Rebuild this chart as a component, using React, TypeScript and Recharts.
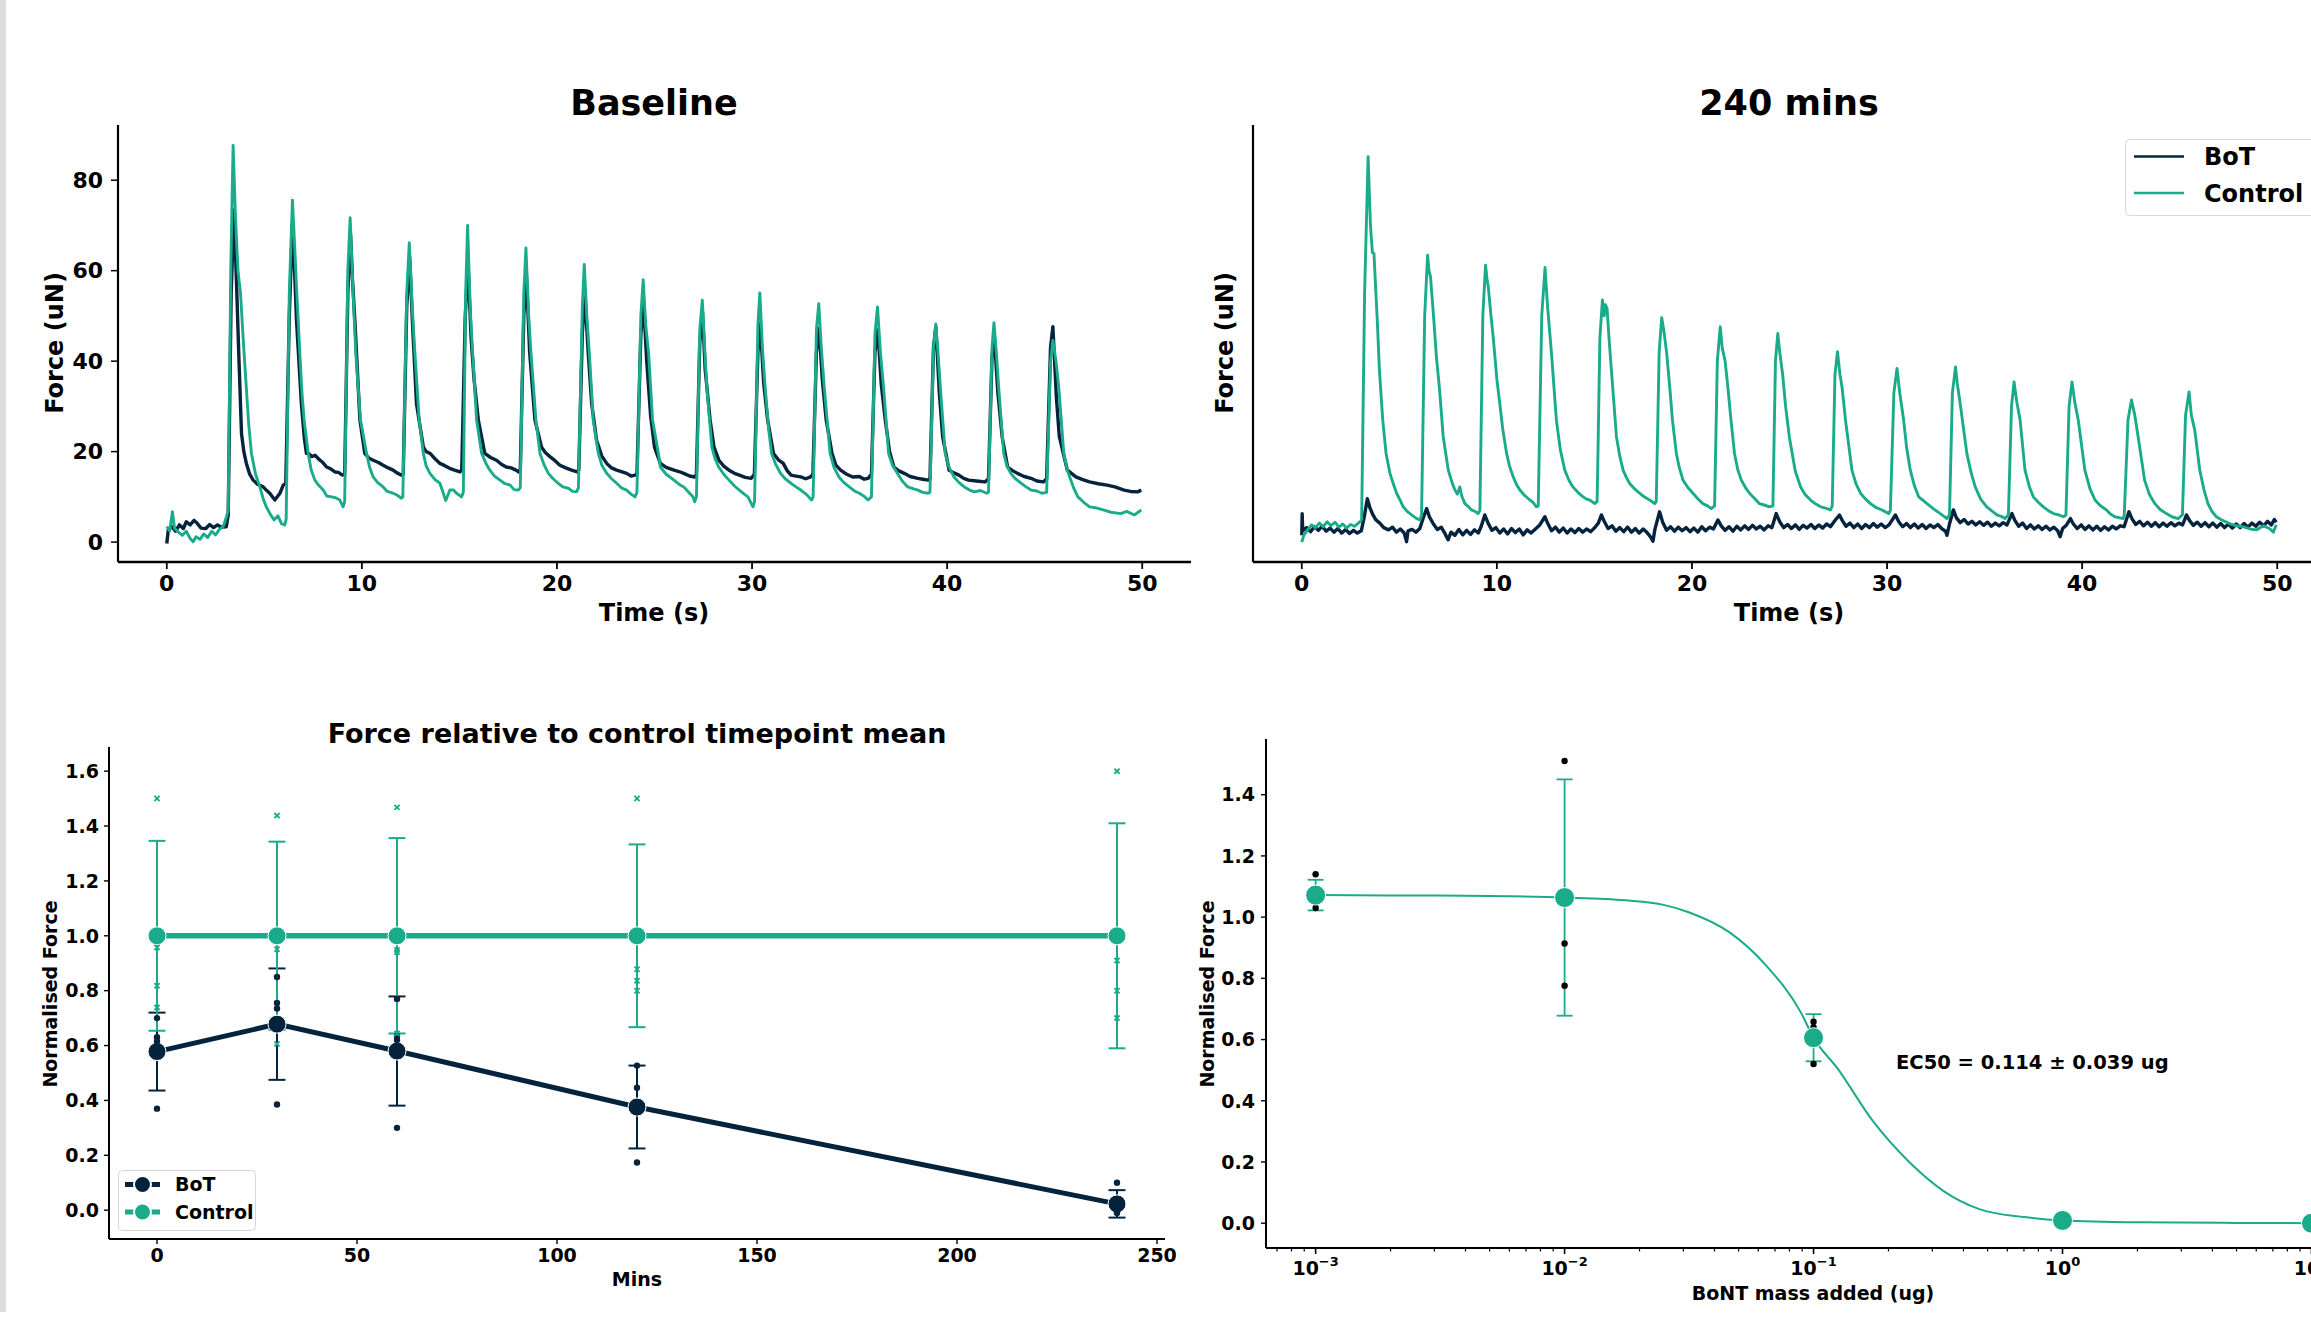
import React from 'react';
import { LineChart, ComposedChart, Line, Scatter, XAxis, YAxis, ErrorBar } from 'recharts';

const DARK = '#06233d';
const GREEN = '#1aab8a';
const FONT = '"DejaVu Sans", sans-serif';

// ---- twitch traces, [time (s), force (uN)] ----
const BOT_BASELINE: [number, number][] = [
  [0, -0.3], [0.08, 2.7], [0.25, 3.5], [0.45, 2.4], [0.65, 3.8], [0.85, 3], [1.0, 4.5], [1.2, 3.8], [1.4, 4.8], [1.55, 4.2], [1.75, 3.1], [2.0, 3.0], [2.2, 3.9], [2.4, 3.2], [2.6, 3.8], [2.8, 3.3], [3.05, 3.4],
  [3.15, 6], [3.3, 55], [3.45, 73.4], [3.57, 58], [3.69, 41.7], [3.83, 24], [3.95, 20], [4.08, 17.4], [4.25, 15], [4.43, 13.7], [4.65, 12.8], [4.94, 12.2], [5.1, 11.5], [5.28, 10.8], [5.54, 9.3], [5.8, 10.8], [5.97, 12.6],
  [6.1, 13], [6.28, 50], [6.44, 70.4], [6.55, 60], [6.65, 49], [6.9, 30.6], [7.05, 23], [7.16, 19.6], [7.3, 19.5], [7.42, 18.9], [7.6, 19.2], [7.85, 18.1], [8.0, 17.6], [8.19, 16.6], [8.4, 16.2], [8.62, 15.5], [8.8, 15.4], [9.0, 14.8],
  [9.12, 15], [9.28, 55], [9.42, 68], [9.52, 58], [9.64, 49], [9.9, 27], [10.15, 19.6], [10.35, 18.6], [10.58, 18.1], [10.85, 17.6], [11.09, 17], [11.35, 16.4], [11.6, 15.9], [11.8, 15.3], [12.03, 14.8],
  [12.12, 15], [12.3, 52], [12.45, 63], [12.6, 48], [12.8, 30.6], [13.15, 21], [13.3, 20], [13.5, 19.6], [13.75, 18.4], [14.0, 17.4], [14.25, 16.9], [14.5, 16.3], [14.75, 15.9], [15.03, 15.5],
  [15.12, 16], [15.3, 50], [15.44, 61.6], [15.6, 45], [15.75, 36], [15.97, 27], [16.3, 19.6], [16.6, 18.7], [16.9, 18.1], [17.15, 17.2], [17.4, 16.6], [17.65, 16.4], [17.9, 15.9], [18.05, 15.5],
  [18.12, 16], [18.3, 50], [18.43, 59.4], [18.6, 42], [18.87, 27], [19.21, 21], [19.4, 19.8], [19.64, 18.9], [19.9, 18], [20.15, 17], [20.45, 16.4], [20.75, 15.9], [21.04, 15.5],
  [21.12, 16], [21.3, 46], [21.43, 55], [21.6, 42], [21.78, 30.6], [22.03, 22.5], [22.3, 19], [22.55, 17.4], [22.8, 16.4], [23.06, 15.9], [23.3, 15.6], [23.57, 15.2], [23.8, 14.6], [24.0, 14.8],
  [24.1, 15], [24.3, 46], [24.44, 53.1], [24.6, 40], [24.8, 28], [25.0, 21], [25.3, 17.4], [25.6, 16.5], [26.0, 15.9], [26.25, 15.6], [26.5, 15.2], [26.8, 14.6], [27.06, 14.4],
  [27.15, 15], [27.32, 44], [27.46, 50.9], [27.6, 38], [27.85, 27], [28.05, 21], [28.3, 18.1], [28.55, 16.8], [28.82, 15.9], [29.1, 15.2], [29.35, 14.8], [29.65, 14.3], [29.96, 14.1],
  [30.12, 15], [30.3, 42], [30.42, 48.3], [30.6, 35], [30.8, 27], [31.1, 19.6], [31.35, 18.2], [31.6, 17.4], [31.8, 15.8], [32.0, 14.8], [32.25, 14.6], [32.5, 14.4], [32.75, 14.0], [33.0, 14.4],
  [33.12, 15], [33.3, 42], [33.44, 47.2], [33.6, 36], [33.8, 27], [34.1, 19.6], [34.3, 17], [34.54, 15.9], [34.85, 15], [35.16, 14.4], [35.5, 14.5], [35.75, 13.9], [35.95, 14.1],
  [36.12, 15], [36.3, 42], [36.45, 46.9], [36.62, 35], [36.83, 27], [37.05, 20], [37.27, 16.6], [37.5, 15.8], [37.8, 15.2], [38.1, 14.5], [38.5, 14.1], [38.75, 13.9], [39.03, 13.7],
  [39.12, 14], [39.3, 43], [39.42, 47.6], [39.6, 33], [39.77, 23.3], [40.1, 15.9], [40.35, 15.3], [40.6, 14.8], [40.85, 14.1], [41.1, 13.7], [41.5, 13.5], [41.94, 13.3],
  [42.12, 14], [42.3, 41], [42.42, 45.4], [42.6, 33], [42.82, 23.3], [43.1, 16.6], [43.35, 15.8], [43.6, 15.2], [43.95, 14.5], [44.3, 14.1], [44.6, 13.5], [44.93, 13.3],
  [45.1, 14], [45.3, 43], [45.42, 47.6], [45.6, 32], [45.75, 23.3], [46.16, 15.9], [46.6, 14.4], [46.95, 13.8], [47.3, 13.3], [47.75, 12.9], [48.2, 12.6], [48.6, 12.2], [49.07, 11.5], [49.4, 11.2], [49.77, 11.1], [49.95, 11.5],
];

const CTRL_BASELINE: [number, number][] = [
  [0, 3.4], [0.15, 2.5], [0.29, 6.7], [0.4, 3], [0.6, 2.2], [0.8, 1.5], [1.0, 2.4], [1.2, 0.8], [1.35, 0.1], [1.5, 1.2], [1.7, 0.6], [1.9, 1.8], [2.1, 1.0], [2.3, 2.4], [2.5, 1.6], [2.7, 2.8], [2.9, 3.5], [3.06, 5.6],
  [3.15, 7], [3.28, 60], [3.4, 87.7], [3.52, 72], [3.65, 60], [3.78, 55], [3.93, 44], [4.08, 34], [4.2, 26], [4.34, 19.6], [4.55, 15], [4.77, 12.2], [4.95, 9.5], [5.1, 7.8], [5.3, 6.2], [5.5, 4.9], [5.7, 5.8], [5.88, 4.1], [6.05, 3.8],
  [6.12, 5], [6.28, 55], [6.44, 75.6], [6.55, 66], [6.65, 56.4], [6.82, 41.7], [6.93, 33], [7.04, 27], [7.25, 19.6], [7.4, 16], [7.59, 13.7], [7.8, 12.5], [8.02, 11.5], [8.2, 10.2], [8.44, 10], [8.65, 9.8], [8.87, 9.3], [9.04, 7.8],
  [9.12, 9], [9.28, 60], [9.4, 71.7], [9.55, 55], [9.69, 41.7], [9.93, 27], [10.24, 19.6], [10.4, 16.5], [10.58, 14.4], [10.8, 13.2], [11.09, 12.2], [11.3, 11.2], [11.6, 10.8], [11.8, 10.4], [12.03, 9.7],
  [12.1, 10], [12.3, 55], [12.43, 66.2], [12.58, 52], [12.72, 41.7], [12.94, 27], [13.15, 19.6], [13.3, 16.8], [13.49, 15.2], [13.75, 13.8], [14.0, 13], [14.3, 9.2], [14.51, 11.5], [14.7, 11.5], [14.85, 10.8], [15.11, 10],
  [15.2, 11], [15.32, 55], [15.42, 70], [15.55, 52], [15.68, 41.7], [15.88, 27], [16.14, 19.6], [16.35, 17.5], [16.56, 15.9], [16.8, 14.6], [17.08, 13.7], [17.3, 13], [17.6, 12.6], [17.8, 11.6], [18.02, 11.5],
  [18.12, 12], [18.3, 55], [18.41, 65], [18.55, 50], [18.67, 41.7], [18.92, 27], [19.13, 19.6], [19.35, 17], [19.56, 15.2], [19.8, 14], [20.07, 13], [20.3, 12.2], [20.58, 11.9], [20.8, 11.2], [21.0, 11.1],
  [21.1, 12], [21.3, 52], [21.4, 61.4], [21.53, 50], [21.66, 41.7], [21.86, 27], [22.12, 19.6], [22.3, 17], [22.55, 15.2], [22.8, 14], [23.06, 13], [23.3, 12], [23.57, 11.5], [23.8, 10.6], [24.0, 10],
  [24.1, 11], [24.3, 50], [24.42, 58], [24.55, 48], [24.7, 41.7], [24.9, 27], [25.2, 19.6], [25.3, 16.6], [25.6, 15], [26.0, 13.7], [26.25, 12.8], [26.5, 12.2], [26.75, 11], [26.97, 10], [27.06, 8.9],
  [27.15, 10], [27.32, 47], [27.45, 53.5], [27.56, 44], [27.68, 34.3], [27.94, 21], [28.1, 18.5], [28.29, 16.6], [28.55, 15], [28.82, 13.7], [29.1, 12.4], [29.35, 11.5], [29.6, 10.6], [29.79, 10], [30.05, 7.8],
  [30.13, 9], [30.3, 48], [30.4, 55.1], [30.53, 43], [30.67, 34.3], [30.85, 25], [31.0, 19.6], [31.2, 17.3], [31.46, 15.2], [31.7, 14], [32.0, 13], [32.25, 12.2], [32.5, 11.5], [32.8, 10.5], [33.05, 9.3],
  [33.13, 10], [33.3, 47], [33.42, 52.7], [33.55, 43], [33.7, 34.3], [34.0, 19.6], [34.2, 16.5], [34.45, 14.4], [34.7, 13.2], [34.98, 12.2], [35.25, 11.3], [35.5, 10.8], [35.75, 10.1], [35.95, 9.3],
  [36.12, 10], [36.3, 46], [36.43, 52], [36.58, 42], [36.74, 34.3], [37.0, 19.6], [37.2, 17], [37.45, 15.2], [37.7, 13.5], [37.98, 12.2], [38.25, 11.8], [38.5, 11.5], [38.75, 11], [39.03, 10.8],
  [39.12, 11], [39.3, 43], [39.42, 48.2], [39.53, 42], [39.65, 34.3], [39.9, 19.6], [40.1, 16.5], [40.35, 14.4], [40.6, 13.2], [40.88, 12.2], [41.15, 11.5], [41.4, 11.1], [41.7, 11.4], [42.03, 10.8],
  [42.12, 11], [42.3, 43], [42.4, 48.5], [42.52, 42], [42.64, 34.3], [42.9, 19.6], [43.05, 17], [43.26, 15.2], [43.5, 14], [43.8, 13], [44.05, 12.2], [44.3, 11.5], [44.6, 11.3], [44.86, 10.8], [45.1, 11],
  [45.3, 40], [45.42, 44.6], [45.58, 40], [45.72, 34.3], [45.98, 19.6], [46.15, 16], [46.34, 13.7], [46.5, 11.8], [46.7, 10], [47.0, 8.8], [47.3, 7.8], [47.6, 7.6], [48.0, 7.1], [48.4, 6.6], [48.9, 6.3], [49.2, 6.8], [49.6, 6.0], [49.95, 7.1],
];

const BOT_240: [number, number][] = [
  [0, 1.5], [0.02, 6.3], [0.05, 2.5], [0.25, 3.2], [0.45, 2.3], [0.65, 3.4], [0.85, 2.6], [1.05, 3.5], [1.25, 2.4], [1.45, 3.1], [1.65, 2.2], [1.85, 3.0], [2.05, 2.0], [2.25, 2.8], [2.45, 1.9], [2.65, 2.6], [2.85, 2.0], [3.05, 2.5],
  [3.2, 5.5], [3.36, 9.6], [3.5, 7.5], [3.65, 6], [3.8, 4.9], [4.0, 4.2], [4.2, 3.2], [4.45, 2.7], [4.65, 3.3], [4.85, 2.2], [5.05, 2.9], [5.25, 2.0], [5.37, 0.1], [5.45, 2.5], [5.65, 2.8], [5.85, 2.2], [6.05, 3.0],
  [6.2, 5], [6.4, 7.4], [6.55, 5.5], [6.75, 4], [6.95, 2.8], [7.15, 3.3], [7.35, 1.8], [7.5, 0.5], [7.65, 2.2], [7.85, 1.5], [8.05, 2.8], [8.25, 1.6], [8.45, 2.6], [8.65, 1.7], [8.85, 2.7], [9.05, 2.0],
  [9.2, 3.5], [9.38, 6.0], [9.55, 4.2], [9.75, 2.6], [9.95, 3.2], [10.15, 2.0], [10.35, 2.9], [10.55, 1.8], [10.75, 3.0], [10.95, 2.1], [11.15, 2.9], [11.35, 1.6], [11.55, 2.7], [11.75, 2.0], [11.95, 2.8],
  [12.2, 3.8], [12.46, 5.6], [12.6, 4.2], [12.8, 2.5], [13.0, 3.3], [13.2, 2.2], [13.4, 3.1], [13.6, 2.0], [13.8, 2.9], [14.0, 2.1], [14.2, 3.0], [14.4, 2.2], [14.6, 2.9], [14.8, 2.3], [15.0, 3.1],
  [15.2, 4.2], [15.36, 6.0], [15.5, 4.6], [15.7, 3.0], [15.9, 3.6], [16.1, 2.4], [16.3, 3.2], [16.5, 2.3], [16.7, 3.3], [16.9, 2.2], [17.1, 3.0], [17.3, 2.0], [17.5, 2.9], [17.7, 2.1], [17.9, 1.0], [18.0, 0.2], [18.1, 2.8],
  [18.34, 6.7], [18.5, 4.4], [18.7, 2.6], [18.9, 3.4], [19.1, 2.4], [19.3, 3.3], [19.5, 2.5], [19.7, 3.2], [19.9, 2.3], [20.1, 3.1], [20.3, 2.2], [20.5, 3.4], [20.7, 2.5], [20.9, 3.3], [21.1, 2.9],
  [21.33, 4.9], [21.5, 3.6], [21.7, 2.6], [21.9, 3.4], [22.1, 2.4], [22.3, 3.5], [22.5, 2.7], [22.7, 3.6], [22.9, 2.8], [23.1, 3.7], [23.3, 2.9], [23.5, 3.5], [23.7, 2.7], [23.9, 3.6], [24.1, 3.2],
  [24.32, 6.3], [24.5, 4.5], [24.7, 3.2], [24.9, 3.9], [25.1, 3.0], [25.3, 3.8], [25.5, 2.8], [25.7, 3.7], [25.9, 3.1], [26.1, 3.9], [26.3, 3.0], [26.5, 3.8], [26.7, 3.1], [26.9, 4.0], [27.1, 3.4],
  [27.3, 4.6], [27.56, 6.0], [27.7, 4.8], [27.9, 3.5], [28.1, 4.2], [28.3, 3.2], [28.5, 4.0], [28.7, 3.0], [28.9, 3.9], [29.1, 3.2], [29.3, 4.1], [29.5, 3.3], [29.7, 4.0], [29.9, 3.2], [30.1, 3.8],
  [30.43, 6.0], [30.6, 4.5], [30.8, 3.4], [31.0, 4.1], [31.2, 3.2], [31.4, 4.0], [31.6, 3.1], [31.8, 3.9], [32.0, 3.0], [32.2, 3.8], [32.4, 3.2], [32.6, 3.9], [32.8, 3.0], [33.0, 2.4], [33.07, 1.5], [33.2, 4.0],
  [33.4, 7.1], [33.55, 5.4], [33.75, 4.3], [33.95, 5.0], [34.15, 4.0], [34.35, 4.6], [34.55, 3.8], [34.75, 4.5], [34.95, 3.7], [35.15, 4.4], [35.35, 3.5], [35.55, 4.2], [35.75, 3.6], [35.95, 4.3], [36.15, 3.8],
  [36.4, 6.3], [36.55, 4.8], [36.75, 3.5], [36.95, 4.2], [37.15, 3.0], [37.35, 3.8], [37.55, 2.9], [37.75, 3.6], [37.95, 2.8], [38.15, 3.5], [38.35, 2.7], [38.55, 3.3], [38.75, 2.5], [38.87, 1.2], [39.0, 3.0],
  [39.2, 3.8], [39.4, 5.2], [39.55, 4.0], [39.75, 3.0], [39.95, 3.8], [40.15, 2.8], [40.35, 3.6], [40.55, 2.7], [40.75, 3.5], [40.95, 2.6], [41.15, 3.4], [41.35, 2.7], [41.55, 3.5], [41.75, 2.9], [41.95, 3.6], [42.15, 3.4],
  [42.4, 6.7], [42.55, 5.2], [42.75, 3.9], [42.95, 4.6], [43.15, 3.6], [43.35, 4.4], [43.55, 3.5], [43.75, 4.3], [43.95, 3.4], [44.15, 4.2], [44.35, 3.5], [44.55, 4.3], [44.75, 3.6], [44.95, 4.2], [45.15, 3.8],
  [45.35, 6.0], [45.5, 4.8], [45.7, 3.7], [45.9, 4.4], [46.1, 3.5], [46.3, 4.3], [46.5, 3.4], [46.7, 4.2], [46.9, 3.3], [47.1, 4.1], [47.3, 3.2], [47.5, 4.0], [47.7, 3.1], [47.9, 4.0], [48.1, 3.2], [48.3, 4.1], [48.5, 3.3], [48.7, 4.2], [48.9, 3.5], [49.1, 4.4], [49.3, 3.6], [49.5, 4.6], [49.7, 3.8], [49.85, 5.0], [49.95, 4.4],
];

const CTRL_240: [number, number][] = [
  [0, 0], [0.1, 1.5], [0.3, 2.7], [0.5, 3.8], [0.7, 3.2], [0.9, 4.2], [1.1, 3.4], [1.3, 4.5], [1.5, 3.6], [1.7, 4.4], [1.9, 3.3], [2.1, 4.0], [2.3, 3.1], [2.5, 3.9], [2.7, 3.5], [2.99, 4.5],
  [3.07, 5], [3.22, 55], [3.4, 85.2], [3.52, 70], [3.62, 64], [3.7, 63.8], [3.8, 55], [3.87, 49], [3.98, 38], [4.15, 27], [4.32, 19.6], [4.52, 15.2], [4.7, 12.8], [4.86, 10.8], [5.05, 9.2], [5.2, 7.8], [5.4, 6.8], [5.55, 6.3], [5.7, 5.8], [5.89, 5.2], [6.06, 4.9],
  [6.14, 6], [6.3, 50], [6.45, 63.4], [6.52, 60], [6.6, 58.6], [6.77, 49], [6.9, 41], [7.05, 34.3], [7.25, 23.3], [7.51, 15.9], [7.7, 13.2], [7.85, 11.5], [7.98, 10.6], [8.1, 12.2], [8.2, 10.2], [8.36, 8.5], [8.55, 7.8], [8.7, 7.1], [8.88, 6.8], [9.04, 6.3],
  [9.13, 7], [9.28, 50], [9.42, 61.2], [9.5, 58], [9.56, 56.4], [9.7, 50], [9.81, 45.4], [10.0, 36], [10.15, 30.6], [10.3, 25], [10.5, 19.6], [10.65, 16.8], [10.84, 14.4], [11.0, 12.8], [11.18, 11.5], [11.4, 10.4], [11.69, 9.3], [11.85, 8.8], [12.03, 7.8],
  [12.12, 8], [12.3, 50], [12.47, 60.7], [12.6, 52], [12.8, 41.7], [13.05, 27], [13.25, 20.5], [13.48, 15.9], [13.7, 13.6], [13.9, 12.2], [14.15, 11], [14.42, 10], [14.6, 9.5], [14.76, 9.3], [15.02, 8.5],
  [15.14, 9], [15.28, 45], [15.41, 53.5], [15.5, 50], [15.56, 52.5], [15.65, 51.6], [15.75, 45], [15.87, 38], [16.13, 23.3], [16.3, 19], [16.47, 15.9], [16.65, 14.2], [16.8, 13], [17.05, 11.8], [17.32, 10.8], [17.55, 10], [17.83, 9.3], [18.09, 8.5],
  [18.17, 9], [18.32, 42], [18.45, 49.6], [18.55, 47], [18.7, 42], [18.86, 34.3], [19.0, 27], [19.2, 19.6], [19.35, 16.5], [19.54, 13.7], [19.8, 12], [20.05, 10.8], [20.3, 9.6], [20.56, 8.5], [20.8, 8], [20.99, 7.4],
  [21.16, 8], [21.3, 40], [21.45, 47.6], [21.55, 43], [21.7, 40], [21.84, 34.3], [22.0, 27], [22.18, 19.6], [22.35, 16], [22.53, 13.7], [22.75, 12], [22.95, 10.8], [23.2, 9.7], [23.46, 8.5], [23.7, 8.2], [23.98, 7.8],
  [24.15, 8], [24.28, 40], [24.4, 46.1], [24.5, 42], [24.65, 37], [24.8, 30], [25.0, 23], [25.08, 21], [25.3, 15.6], [25.57, 12.2], [25.8, 10.5], [26.08, 9.3], [26.35, 8.4], [26.6, 7.8], [26.85, 7.5], [27.1, 7.1],
  [27.19, 8], [27.33, 37], [27.46, 42.1], [27.58, 37.3], [27.7, 34], [27.87, 27], [28.2, 15.9], [28.4, 13], [28.64, 10.8], [28.9, 9.5], [29.15, 8.5], [29.45, 7.6], [29.74, 7.1], [30.09, 6.3],
  [30.17, 7], [30.35, 33], [30.51, 38.4], [30.65, 33], [30.85, 27], [31.0, 21], [31.19, 15.9], [31.4, 12.5], [31.62, 10], [31.85, 9.2], [32.05, 8.5], [32.4, 7.3], [32.73, 6.3], [33.07, 5.2],
  [33.2, 6], [33.35, 33], [33.51, 38.7], [33.6, 35], [33.75, 30.6], [34.09, 19.6], [34.3, 15.5], [34.52, 12.2], [34.8, 9.5], [35.11, 7.8], [35.4, 6.8], [35.63, 6.0], [35.85, 5.7], [36.05, 5.2],
  [36.22, 6], [36.38, 30], [36.51, 35.4], [36.65, 31], [36.82, 27], [37.07, 15.9], [37.3, 12.2], [37.5, 10], [37.75, 8.8], [38.01, 7.8], [38.25, 7], [38.53, 6.3], [38.8, 6], [39.04, 5.6],
  [39.17, 6], [39.33, 30], [39.48, 35.4], [39.62, 31], [39.8, 27], [40.14, 15.9], [40.4, 11.8], [40.66, 9.3], [40.95, 8], [41.25, 7.1], [41.45, 6.2], [41.68, 5.6], [42.1, 5.2],
  [42.16, 6], [42.35, 27], [42.53, 31.4], [42.7, 28], [42.87, 23.3], [43.2, 13.7], [43.45, 10.5], [43.73, 8.5], [44.0, 7.2], [44.32, 6.3], [44.6, 5.6], [44.92, 5.2],
  [45.14, 6], [45.3, 28], [45.48, 33.2], [45.6, 28], [45.77, 24.8], [46.03, 15.9], [46.25, 11.5], [46.45, 8.5], [46.65, 6.8], [46.88, 5.6], [47.2, 4.8], [47.56, 4.1], [47.9, 3.6], [48.24, 3.4], [48.6, 2.9], [48.93, 2.7], [49.3, 3.6], [49.6, 3.0], [49.8, 2.2], [49.95, 3.8],
];

const TIME_TICKS = [0, 10, 20, 30, 40, 50];
const FORCE_TICKS = [0, 20, 40, 60, 80];

// ---- force relative to control timepoint mean ----
const MINS = [0, 30, 60, 120, 240];
const BOT_MEAN = [0.578, 0.678, 0.58, 0.376, 0.023];
const BOT_SD = [0.142, 0.203, 0.199, 0.151, 0.05];
const CTRL_MEAN = [1, 1, 1, 1, 1];
const CTRL_SD = [0.346, 0.343, 0.356, 0.333, 0.41];
const BOT_REPS = [
  [0.7, 0.63, 0.615, 0.37],
  [0.85, 0.755, 0.735, 0.385],
  [0.77, 0.635, 0.62, 0.3],
  [0.527, 0.446, 0.357, 0.174],
  [0.1, 0.01, -0.005, -0.01],
];
const CTRL_REPS = [
  [1.5, 0.957, 0.818, 0.739],
  [1.438, 0.951, 1.0, 0.606],
  [1.468, 0.948, 0.94, 0.644],
  [1.5, 0.878, 0.836, 0.8],
  [1.6, 0.91, 0.8, 0.7],
];
const MINS_TICKS = [0, 50, 100, 150, 200, 250];
const NORM_TICKS = [0, 0.2, 0.4, 0.6, 0.8, 1.0, 1.2, 1.4, 1.6];

// ---- dose response ----
const DOSES = [0.001, 0.01, 0.1, 1, 10];
const DOSE_MEAN = [1.072, 1.064, 0.606, 0.009, 0.0];
const DOSE_SD = [0.05, 0.386, 0.077, 0, 0];
const DOSE_REPS = [
  [1.14, 1.03, 1.045],
  [1.51, 0.914, 0.776, 1.056],
  [0.658, 0.52, 0.64],
  [0.012, 0.006, 0.009],
  [0.0, 0.0, 0.0],
];
const CURVE_DOSE = [0.001, 0.002, 0.005, 0.01, 0.0175, 0.025, 0.0315, 0.046, 0.064, 0.089, 0.1, 0.125, 0.173, 0.24, 0.333, 0.463, 0.7, 1, 2, 5, 10];
const CURVE_FORCE = [1.072, 1.071, 1.069, 1.064, 1.055, 1.04, 1.016, 0.95, 0.845, 0.688, 0.606, 0.505, 0.334, 0.203, 0.105, 0.046, 0.02, 0.009, 0.003, 0.001, 0.0];
const DOSE_MAJOR = [0.001, 0.01, 0.1, 1, 10];
const DOSE_NORM_TICKS = [0, 0.2, 0.4, 0.6, 0.8, 1.0, 1.2, 1.4];

const toPts = (arr: [number, number][]) => arr.map(([t, f]) => ({ t, f }));

const timeRows = MINS.map((m, i) => ({ m, bot: BOT_MEAN[i], botSd: BOT_SD[i], ctrl: CTRL_MEAN[i], ctrlSd: CTRL_SD[i] }));
const botRepPts = MINS.flatMap((m, i) => BOT_REPS[i].map((v) => ({ m, v })));
const ctrlRepPts = MINS.flatMap((m, i) => CTRL_REPS[i].map((v) => ({ m, v })));

const doseRows = DOSES.map((x, i) => ({ x, y: DOSE_MEAN[i], sd: DOSE_SD[i] }));
const doseRepPts = DOSES.flatMap((x, i) => DOSE_REPS[i].map((y) => ({ x, y })));
const curvePts = CURVE_DOSE.map((x, i) => ({ x, y: CURVE_FORCE[i] }));
const doseTicks = [0.0007, 0.0008, 0.0009, ...DOSE_MAJOR.flatMap((d) => (d < 10 ? [d, 2 * d, 3 * d, 4 * d, 5 * d, 6 * d, 7 * d, 8 * d, 9 * d] : [d]))];

const bigTick = { fontSize: 22, fontWeight: 'bold', fill: '#000', fontFamily: FONT };
const smallTick = { fontSize: 19, fontWeight: 'bold', fill: '#000', fontFamily: FONT };

function Txt({ x, y, size, children, rotate = false, left = false }: any) {
  return (
    <div
      style={{
        position: 'absolute',
        left: x,
        top: y,
        transform: `translate(${left ? '0' : '-50%'}, -50%)${rotate ? ' rotate(-90deg)' : ''}`,
        fontSize: size,
        fontWeight: 'bold',
        fontFamily: FONT,
        lineHeight: 1,
        whiteSpace: 'nowrap',
        color: '#000',
      }}
    >
      {children}
    </div>
  );
}

function TracePanel({ left, top, bot, ctrl, labels }: any) {
  const yw = labels ? 100 : 20;
  return (
    <div style={{ position: 'absolute', left: left - yw, top: top - 20 }}>
      <LineChart width={yw + 1073 + 20} height={20 + 437 + 60} margin={{ top: 20, right: 20, bottom: 0, left: 0 }}>
        <XAxis
          type="number"
          dataKey="t"
          domain={[-2.5, 52.5]}
          ticks={TIME_TICKS}
          allowDataOverflow
          height={60}
          axisLine={{ stroke: '#000', strokeWidth: 2.6 }}
          tickLine={{ stroke: '#000', strokeWidth: 1.8 }}
          tickSize={7}
          tickMargin={6}
          tick={bigTick}
          interval={0}
        />
        <YAxis
          type="number"
          domain={[-4.4, 92.2]}
          ticks={FORCE_TICKS}
          allowDataOverflow
          width={yw}
          axisLine={{ stroke: '#000', strokeWidth: 2.2 }}
          tickLine={{ stroke: '#000', strokeWidth: 1.5 }}
          tickSize={labels ? 7 : 5}
          tickMargin={8}
          tick={labels ? bigTick : false}
          interval={0}
        />
        <Line data={bot} dataKey="f" type="linear" stroke={DARK} strokeWidth={3.4} strokeLinejoin="round" dot={false} isAnimationActive={false} />
        <Line data={ctrl} dataKey="f" type="linear" stroke={GREEN} strokeWidth={2.9} strokeLinejoin="round" dot={false} isAnimationActive={false} />
      </LineChart>
    </div>
  );
}

function RepDot(props: any) {
  const { cx, cy } = props;
  return <circle cx={cx} cy={cy} r={3.2} fill={DARK} />;
}

function RepCross(props: any) {
  const { cx, cy } = props;
  const s = 2.6;
  return (
    <g stroke={GREEN} strokeWidth={1.8}>
      <line x1={cx - s} y1={cy - s} x2={cx + s} y2={cy + s} />
      <line x1={cx - s} y1={cy + s} x2={cx + s} y2={cy - s} />
    </g>
  );
}

function BlackDot(props: any) {
  const { cx, cy } = props;
  return <circle cx={cx} cy={cy} r={3.2} fill="#000" />;
}

function MeanDot(props: any) {
  const { cx, cy } = props;
  return <circle cx={cx} cy={cy} r={10} fill={GREEN} stroke="#fff" strokeWidth={1} />;
}

function DoseTick(props: any) {
  const { x, y, payload } = props;
  const v = payload.value;
  const lg = Math.log10(v);
  const exp = Math.round(lg);
  const major = Math.abs(lg - exp) < 1e-6;
  if (!major) return <line x1={x} x2={x} y1={y} y2={y + 3.5} stroke="#000" strokeWidth={1.2} />;
  return (
    <g>
      <line x1={x} x2={x} y1={y} y2={y + 6} stroke="#000" strokeWidth={1.6} />
      <text x={x} y={y + 27} textAnchor="middle" fontFamily={FONT} fontWeight="bold" fontSize={19} fill="#000">
        10<tspan dy={-9} fontSize={13}>{exp < 0 ? '\u2212' + -exp : String(exp)}</tspan>
      </text>
    </g>
  );
}

export default function App() {
  return (
    <div
      style={{
        position: 'absolute',
        left: 0,
        top: 0,
        width: 2311,
        height: 1329,
        overflow: 'hidden',
        background: '#fff',
        fontFamily: FONT,
      }}
    >
      <div style={{ position: 'absolute', left: 0, top: 0, width: 6, height: 1312, background: '#dcdcdc' }} />

      {/* top row: raw traces */}
      <TracePanel left={118} top={125} bot={toPts(BOT_BASELINE)} ctrl={toPts(CTRL_BASELINE)} labels />
      <TracePanel left={1253} top={125} bot={toPts(BOT_240)} ctrl={toPts(CTRL_240)} labels={false} />

      <Txt x={654} y={103} size={35}>Baseline</Txt>
      <Txt x={1789} y={103} size={35}>240 mins</Txt>
      <Txt x={654} y={613} size={24}>Time (s)</Txt>
      <Txt x={1789} y={613} size={24}>Time (s)</Txt>
      <Txt x={55} y={343} size={24} rotate>Force (uN)</Txt>
      <Txt x={1225} y={343} size={24} rotate>Force (uN)</Txt>

      <svg style={{ position: 'absolute', left: 2125, top: 139 }} width={220} height={78}>
        <rect x={0.5} y={0.5} width={218} height={76} rx={4} fill="#fff" fillOpacity={0.85} stroke="#d6d6d6" />
        <line x1={9} x2={59} y1={17.5} y2={17.5} stroke={DARK} strokeWidth={2.6} />
        <line x1={9} x2={59} y1={54} y2={54} stroke={GREEN} strokeWidth={2.6} />
        <text x={79} y={17.5} dy="0.36em" fontFamily={FONT} fontWeight="bold" fontSize={24} fill="#000">BoT</text>
        <text x={79} y={54} dy="0.36em" fontFamily={FONT} fontWeight="bold" fontSize={24} fill="#000">Control</text>
      </svg>

      {/* bottom left: normalised force over time */}
      <div style={{ position: 'absolute', left: 109 - 100, top: 747 - 20 }}>
        <ComposedChart width={100 + 1056 + 20} height={20 + 492 + 60} margin={{ top: 20, right: 20, bottom: 0, left: 0 }} data={timeRows}>
          <XAxis
            type="number"
            dataKey="m"
            domain={[-12, 252]}
            ticks={MINS_TICKS}
            allowDataOverflow
            height={60}
            axisLine={{ stroke: '#000', strokeWidth: 2 }}
            tickLine={{ stroke: '#000', strokeWidth: 1.4 }}
            tickSize={5}
            tickMargin={5}
            tick={smallTick}
            interval={0}
          />
          <YAxis
            type="number"
            domain={[-0.105, 1.688]}
            ticks={NORM_TICKS}
            allowDataOverflow
            width={100}
            axisLine={{ stroke: '#000', strokeWidth: 2 }}
            tickLine={{ stroke: '#000', strokeWidth: 1.4 }}
            tickSize={5}
            tickMargin={5}
            tick={smallTick}
            tickFormatter={(v: number) => v.toFixed(1)}
            interval={0}
          />
          <Line dataKey="bot" stroke={DARK} strokeWidth={5} dot={{ r: 9, fill: DARK, stroke: '#fff', strokeWidth: 1 }} isAnimationActive={false}>
            <ErrorBar dataKey="botSd" direction="y" width={8.5} stroke={DARK} strokeWidth={2} isAnimationActive={false} />
          </Line>
          <Line dataKey="ctrl" stroke={GREEN} strokeWidth={5.5} dot={{ r: 9, fill: GREEN, stroke: '#fff', strokeWidth: 1 }} isAnimationActive={false}>
            <ErrorBar dataKey="ctrlSd" direction="y" width={8.5} stroke={GREEN} strokeWidth={2} isAnimationActive={false} />
          </Line>
          <Scatter data={botRepPts} dataKey="v" shape={<RepDot />} isAnimationActive={false} />
          <Scatter data={ctrlRepPts} dataKey="v" shape={<RepCross />} isAnimationActive={false} />
        </ComposedChart>
      </div>

      <Txt x={637} y={733} size={27}>Force relative to control timepoint mean</Txt>
      <Txt x={637} y={1279} size={19}>Mins</Txt>
      <Txt x={50} y={994} size={19} rotate>Normalised Force</Txt>

      <svg style={{ position: 'absolute', left: 118, top: 1170 }} width={140} height={62}>
        <rect x={0.5} y={0.5} width={137} height={60} rx={4} fill="#fff" fillOpacity={0.85} stroke="#d6d6d6" />
        <line x1={7} x2={42} y1={14.5} y2={14.5} stroke={DARK} strokeWidth={5} />
        <circle cx={24.5} cy={14.5} r={8.5} fill={DARK} stroke="#fff" strokeWidth={2} />
        <line x1={7} x2={42} y1={42} y2={42} stroke={GREEN} strokeWidth={5} />
        <circle cx={24.5} cy={42} r={8.5} fill={GREEN} stroke="#fff" strokeWidth={2} />
        <text x={57} y={14.5} dy="0.36em" fontFamily={FONT} fontWeight="bold" fontSize={19} fill="#000">BoT</text>
        <text x={57} y={42} dy="0.36em" fontFamily={FONT} fontWeight="bold" fontSize={19} fill="#000">Control</text>
      </svg>

      {/* bottom right: dose response */}
      <div style={{ position: 'absolute', left: 1266 - 100, top: 739 - 20 }}>
        <ComposedChart width={100 + 1095 + 20} height={20 + 509 + 60} margin={{ top: 20, right: 20, bottom: 0, left: 0 }}>
          <XAxis
            type="number"
            dataKey="x"
            scale="log"
            domain={[0.000632, 15.81]}
            ticks={doseTicks}
            allowDataOverflow
            height={60}
            axisLine={{ stroke: '#000', strokeWidth: 2 }}
            tickLine={false}
            tickSize={0}
            tickMargin={0}
            tick={<DoseTick />}
            interval={0}
          />
          <YAxis
            type="number"
            domain={[-0.081, 1.582]}
            ticks={DOSE_NORM_TICKS}
            allowDataOverflow
            width={100}
            axisLine={{ stroke: '#000', strokeWidth: 2 }}
            tickLine={{ stroke: '#000', strokeWidth: 1.4 }}
            tickSize={5}
            tickMargin={6}
            tick={smallTick}
            tickFormatter={(v: number) => v.toFixed(1)}
            interval={0}
          />
          <Line data={curvePts} dataKey="y" type="monotone" stroke={GREEN} strokeWidth={2} dot={false} isAnimationActive={false} />
          <Scatter data={doseRepPts} dataKey="y" shape={<BlackDot />} isAnimationActive={false} />
          <Scatter data={doseRows} dataKey="y" shape={<MeanDot />} isAnimationActive={false}>
            <ErrorBar dataKey="sd" direction="y" width={8} stroke={GREEN} strokeWidth={1.8} isAnimationActive={false} />
          </Scatter>
        </ComposedChart>
      </div>

      <Txt x={1896} y={1063} size={19.5} left>EC50 = 0.114 ± 0.039 ug</Txt>
      <Txt x={1813} y={1293} size={19}>BoNT mass added (ug)</Txt>
      <Txt x={1207} y={994} size={19} rotate>Normalised Force</Txt>
    </div>
  );
}
